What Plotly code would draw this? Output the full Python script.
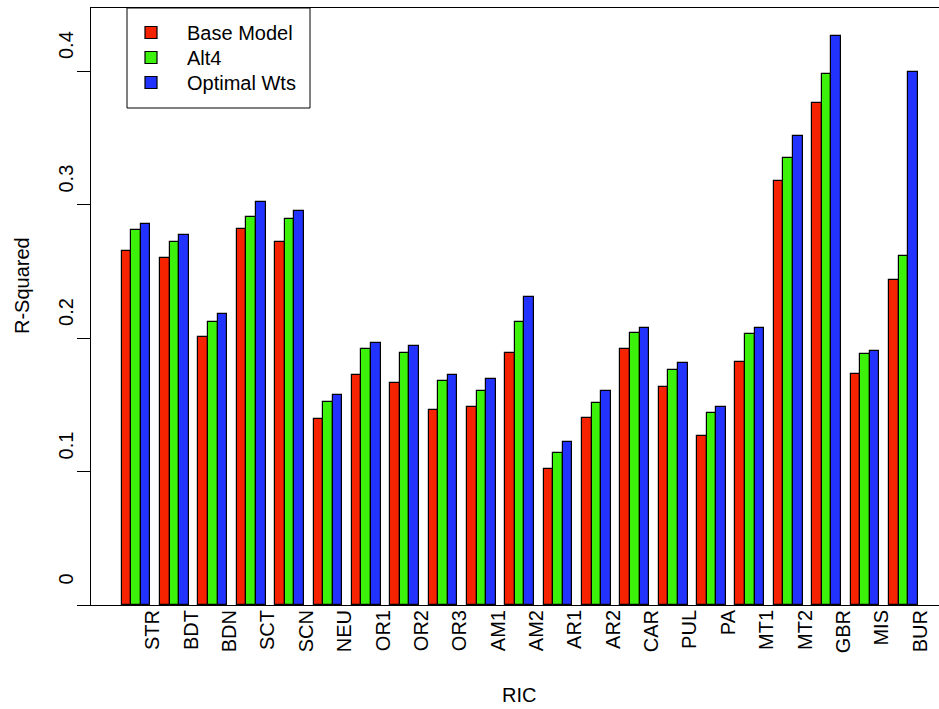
import numpy as np
import plotly.graph_objects as go

# Regions (RIC) and R-squared for each model
regions = ["STR", "BDT", "BDN", "SCT", "SCN", "NEU", "OR1", "OR2", "OR3", "AM1",
           "AM2", "AR1", "AR2", "CAR", "PUL", "PA", "MT1", "MT2", "GBR", "MIS", "BUR"]
base_model = [0.265, 0.260, 0.2005, 0.282, 0.272, 0.139, 0.172, 0.166, 0.146, 0.148,
              0.189, 0.1016, 0.140, 0.1915, 0.163, 0.127, 0.182, 0.318, 0.376, 0.173, 0.2437]
alt4 = [0.281, 0.272, 0.212, 0.291, 0.289, 0.152, 0.192, 0.1885, 0.168, 0.1605,
        0.212, 0.1136, 0.151, 0.204, 0.176, 0.1436, 0.203, 0.335, 0.398, 0.188, 0.2614]
optimal_wts = [0.2856, 0.277, 0.218, 0.3016, 0.295, 0.157, 0.1965, 0.194, 0.172, 0.169,
               0.2305, 0.122, 0.160, 0.2077, 0.1815, 0.1486, 0.2077, 0.3516, 0.426, 0.190, 0.3993]
y_ticks = [0, 0.1, 0.2, 0.3, 0.4]
y_tick_text = ["0", "0.1", "0.2", "0.3", "0.4"]

series = [
    ("Base Model", base_model, "#F52300"),
    ("Alt4", alt4, "#3CF20A"),
    ("Optimal Wts", optimal_wts, "#2233FF"),
]

FONT = "Liberation Sans, Arial, Helvetica, sans-serif"
W, H = 939, 709
ML, MR, MT, MB = 91, 0, 8, 104
PW, PH = W - ML - MR, H - MT - MB


def px_x(p):
    return (p - ML) / PW


def px_y(p):
    return (H - MB - p) / PH


# barplot(beside=TRUE) layout: each group = 1 unit gap + 3 bars of width 1
group = np.arange(len(regions)) * 4
legend_names = ["legend", "legend2", "legend3"]
fig = go.Figure()
for k, (name, vals, col) in enumerate(series):
    fig.add_trace(go.Bar(
        x=group + 1.5 + k, y=vals, width=1, name=name, legend=legend_names[k],
        marker=dict(color=col, line=dict(color="black", width=1.2)),
    ))

x_lo, x_hi = -2.2, 86.22
y_hi = 1.05 * max(optimal_wts)

# one legend box per row so the row spacing follows the key layout
leg_common = dict(xanchor="left", yanchor="top", bgcolor="rgba(0,0,0,0)",
                  borderwidth=0, itemwidth=62,
                  font=dict(family=FONT, size=20, color="black"))
legends = {}
for k, ln in enumerate(legend_names):
    legends[ln] = dict(x=px_x(115), y=px_y(13 + 25 * k), **leg_common)

fig.update_layout(
    width=W, height=H,
    margin=dict(l=ML, r=MR, t=MT, b=MB, pad=0),
    paper_bgcolor="white", plot_bgcolor="white",
    font=dict(family=FONT, size=20, color="black"),
    bargap=0,
    showlegend=True,
    **legends,
    xaxis=dict(range=[x_lo, x_hi], showgrid=False, zeroline=False,
               showline=True, linecolor="black", linewidth=1, mirror=True,
               tickvals=group + 4.25, ticktext=regions, tickangle=-90,
               ticks="", tickfont=dict(size=20), ticklabelstandoff=-4),
    yaxis=dict(range=[0, y_hi], showgrid=False, zeroline=False,
               showline=True, linecolor="black", linewidth=1,
               tickvals=y_ticks, ticktext=y_tick_text, tickangle=-90,
               ticks="outside", ticklen=13, tickcolor="black",
               tickfont=dict(size=20), ticklabelshift=-23, ticklabelstandoff=-4),
    shapes=[dict(type="rect", xref="paper", yref="paper",
                 x0=px_x(127), x1=px_x(310), y0=px_y(108), y1=px_y(8),
                 line=dict(color="black", width=1), fillcolor="rgba(0,0,0,0)")],
    annotations=[
        dict(text="R-Squared", xref="paper", yref="paper", x=px_x(22), y=px_y(286),
             textangle=-90, showarrow=False, xanchor="center", yanchor="middle",
             font=dict(size=20)),
        dict(text="RIC", xref="paper", yref="paper", x=px_x(519), y=px_y(695),
             showarrow=False, xanchor="center", yanchor="middle", font=dict(size=20)),
    ],
)

fig.write_html("out.html")
